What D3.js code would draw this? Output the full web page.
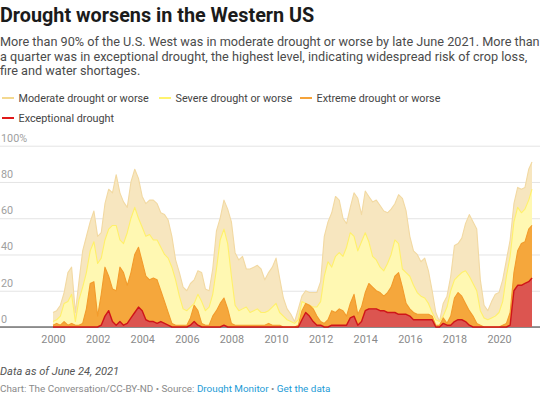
<!DOCTYPE html>
<html><head><meta charset="utf-8">
<script src="https://cdn.jsdelivr.net/npm/d3@7"></script>
<style>
html,body{margin:0;padding:0;background:#fff;}
svg{display:block;font-family:Roboto,"Noto Sans",sans-serif;}
</style></head>
<body>
<svg id="chart" width="540" height="393"></svg>
<script>
// ---- data (share of U.S. West in drought, %) ----
const dates = [
 "2000-01","2000-03","2000-05","2000-07","2000-09","2000-11",
 "2001-01","2001-03","2001-05","2001-07","2001-09","2001-11",
 "2002-01","2002-03","2002-05","2002-07","2002-09","2002-11",
 "2003-01","2003-03","2003-05","2003-07","2003-09","2003-11",
 "2004-01","2004-03","2004-05","2004-07","2004-09","2004-11",
 "2005-01","2005-03","2005-05","2005-07","2005-09","2005-11",
 "2006-01","2006-03","2006-05","2006-07","2006-09","2006-11",
 "2007-01","2007-03","2007-05","2007-07","2007-09","2007-11",
 "2008-01","2008-03","2008-05","2008-07","2008-09","2008-11",
 "2009-01","2009-03","2009-05","2009-07","2009-09","2009-11",
 "2010-01","2010-03","2010-05","2010-07","2010-09","2010-11",
 "2011-01","2011-03","2011-05","2011-07","2011-09","2011-11",
 "2012-01","2012-03","2012-05","2012-07","2012-09","2012-11",
 "2013-01","2013-03","2013-05","2013-07","2013-09","2013-11",
 "2014-01","2014-03","2014-05","2014-07","2014-09","2014-11",
 "2015-01","2015-03","2015-05","2015-07","2015-09","2015-11",
 "2016-01","2016-03","2016-05","2016-07","2016-09","2016-11",
 "2017-01","2017-03","2017-05","2017-07","2017-09","2017-11",
 "2018-01","2018-03","2018-05","2018-07","2018-09","2018-11",
 "2019-01","2019-03","2019-05","2019-07","2019-09","2019-11",
 "2020-01","2020-03","2020-05","2020-07","2020-09","2020-11",
 "2021-01","2021-03","2021-05","2021-06-24"
];
const moderate = [
 8, 9, 12, 19, 30, 33,
 8, 25, 42, 50, 58, 64,
 50, 52, 68, 76, 74, 84,
 74, 69, 66, 80, 87, 82,
 72, 68, 70, 70, 68, 63,
 62, 59, 50, 37, 30, 22,
 20, 24, 26, 31, 30, 21,
 20, 32, 53, 60, 70, 65,
 58, 41, 37, 39, 32, 32,
 33, 34, 32, 26, 30, 33,
 38, 27, 16, 10, 7, 3,
 10, 17, 20, 19, 19, 19,
 25, 50, 58, 63, 72, 70,
 60, 57, 66, 74, 71, 62,
 75, 72, 69, 70, 67, 64,
 63, 65, 68, 73, 71, 64,
 50, 42, 40, 36, 38, 31,
 20, 8, 3, 13, 17, 28,
 45, 46, 49, 57, 62, 58,
 54, 26, 12, 9, 14, 18,
 19, 26, 37, 48, 68, 77,
 76, 77, 87, 91
];
const severe = [
 3, 4, 6, 13, 14, 18,
 3, 15, 22, 30, 42, 47,
 35, 38, 48, 54, 56, 56,
 48, 46, 52, 60, 66, 60,
 55, 50, 51, 48, 48, 44,
 40, 38, 33, 26, 17, 10,
 9, 11, 13, 18, 14, 9,
 11, 18, 32, 48, 54, 46,
 28, 12, 9, 10, 11, 8,
 9, 10, 8, 8, 9, 11,
 13, 8, 6, 4, 3, 2,
 4, 14, 13, 12, 11, 11,
 14, 28, 36, 33, 39, 41,
 39, 44, 52, 50, 42, 47,
 52, 47, 39, 37, 33, 31,
 35, 40, 48, 46, 32, 30,
 28, 23, 19, 17, 16, 13,
 8, 4, 3, 6, 11, 20,
 26, 28, 30, 31, 28, 24,
 20, 9, 5, 4, 5, 6,
 8, 14, 28, 39, 58, 66,
 63, 65, 70, 76
];
const extreme = [
 1, 2, 1, 3, 1, 2,
 1, 1, 2, 10, 24, 25,
 6, 18, 33, 28, 21, 20,
 33, 30, 23, 30, 40, 44,
 36, 28, 26, 27, 26, 20,
 14, 8, 2, 1, 1, 1,
 1, 5, 12, 9, 2, 1,
 1, 6, 9, 13, 16, 10,
 2, 1, 1, 1, 1, 1,
 1, 1, 1, 1, 2, 1,
 1, 1, 0, 0, 0, 0,
 1, 9, 13, 12, 10, 6,
 3, 2, 4, 9, 8, 10,
 9, 6, 13, 18, 7, 11,
 19, 24, 22, 20, 19, 17,
 19, 22, 28, 30, 22, 13,
 10, 8, 7, 7, 7, 7,
 6, 1, 1, 5, 2, 6,
 16, 19, 17, 13, 9, 6,
 2, 1, 0, 0, 0, 0,
 0, 1, 2, 8, 30, 42,
 46, 47, 54, 56
];
const exceptional = [
 0, 0, 0, 0, 0, 0,
 0, 0, 0, 0, 0, 0,
 0, 1, 6, 9, 3, 1,
 3, 1, 2, 5, 8, 11,
 9, 4, 3, 3, 2, 3,
 2, 1, 0, 0, 0, 0,
 0, 1, 3, 1, 0, 0,
 0, 0, 0, 0, 1, 0,
 0, 0, 0, 0, 0, 0,
 0, 0, 0, 0, 0, 0,
 0, 0, 0, 0, 0, 0,
 0, 4, 8, 6, 3, 1,
 1, 0, 0, 1, 1, 1,
 1, 1, 5, 6, 1, 3,
 9, 10, 10, 10, 9, 9,
 8, 8, 8, 7, 7, 7,
 6, 4, 4, 4, 4, 4,
 4, 0, 0, 2, 1, 1,
 3, 4, 4, 3, 1, 0,
 0, 0, 0, 0, 0, 0,
 0, 0, 0, 1, 20, 23,
 23, 24, 25, 27
];
const seriesNames = ["Moderate drought or worse","Severe drought or worse","Extreme drought or worse","Exceptional drought"];
const yTicks = [0, 20, 40, 60, 80, 100];
const xTickYears = [2000, 2002, 2004, 2006, 2008, 2010, 2012, 2014, 2016, 2018, 2020];

// ---- styles ----
const fills   = ["#f7e6bf", "#fff8b2", "#f5a73c", "#dc5550"];
const strokes = ["#f2d9a2", "#fff06a", "#f29b2c", "#cf1519"];
const swatch  = ["#f3d88f", "#fff36e", "#f5a33a", "#e0191a"];

const W = 540;
const svg = d3.select("#chart");

const pYM = d3.timeParse("%Y-%m"), pYMD = d3.timeParse("%Y-%m-%d");
const parsed = dates.map(s => s.length === 7 ? pYM(s) : pYMD(s));
const allSeries = [moderate, severe, extreme, exceptional].map(vals => vals.map((v, i) => ({date: parsed[i], v})));

const x = d3.scaleTime().domain([parsed[0], parsed[parsed.length - 1]]).range([53, 532]);
const y = d3.scaleLinear().domain([0, 100]).range([327, 145.7]);

// ---- header ----
svg.append("text").attr("x", 0).attr("y", 22)
  .attr("font-size", "19.8px").attr("font-weight", "bold").attr("fill", "#1b1b1b")
  .text("Drought worsens in the Western US");
const sub = [
 "More than 90% of the U.S. West was in moderate drought or worse by late June 2021. More than",
 "a quarter was in exceptional drought, the highest level, indicating widespread risk of crop loss,",
 "fire and water shortages."
];
svg.append("g").selectAll("text").data(sub).join("text")
  .attr("x", 0).attr("y", (d, i) => 46 + i * 14.6)
  .attr("font-size", "12.7px").attr("fill", "#4b4b4b").text(d => d);

// ---- legend ----
const legPos = [[0, 98], [157, 98], [298, 98], [0, 118]];
const leg = svg.append("g").selectAll("g").data(seriesNames).join("g")
  .attr("transform", (d, i) => `translate(${legPos[i][0]},${legPos[i][1]})`);
leg.append("line").attr("x1", 2).attr("x2", 14).attr("y1", 0).attr("y2", 0)
  .attr("stroke", (d, i) => swatch[i]).attr("stroke-width", 2);
leg.append("text").attr("x", 18.5).attr("y", 3.9).attr("font-size", "10.8px").attr("fill", "#444").text(d => d);

// ---- grid + y labels ----
const yAxis = d3.axisLeft(y).tickValues(yTicks).tickSize(-W).tickFormat(d => d === 100 ? "100%" : d);
const gy = svg.append("g").call(yAxis);
gy.select(".domain").remove();
gy.selectAll(".tick line").attr("x1", 0).attr("x2", W).attr("stroke", "#e4e4e4");
gy.selectAll(".tick text").attr("x", 1).attr("dy", -4.5).attr("text-anchor", "start")
  .attr("font-size", "10.8px").attr("fill", "#a0a0a0").attr("font-family", "Roboto");

// baseline
svg.append("line").attr("x1", 0).attr("x2", W).attr("y1", y(0)).attr("y2", y(0))
  .attr("stroke", "#333").attr("stroke-width", 1);

// ---- areas ----
const area = d3.area().x(d => x(d.date)).y0(y(0)).y1(d => y(d.v));
const line = d3.line().x(d => x(d.date)).y(d => y(d.v));
const plot = svg.append("g");
allSeries.forEach((s, i) => {
  plot.append("path").datum(s).attr("d", area).attr("fill", fills[i]);
  plot.append("path").datum(s).attr("d", line).attr("fill", "none")
    .attr("stroke", strokes[i]).attr("stroke-width", i === 3 ? 1.4 : 1.1).attr("stroke-linejoin", "round");
});

// ---- x axis ----
const xAxis = d3.axisBottom(x).tickValues(xTickYears.map(yr => new Date(yr, 0, 1)))
  .tickFormat(d3.timeFormat("%Y")).tickSize(0);
const gx = svg.append("g").attr("transform", `translate(0,${y(0)})`).call(xAxis);
gx.select(".domain").remove();
gx.selectAll(".tick text").attr("dy", 0).attr("y", 15.5)
  .attr("font-size", "10.8px").attr("fill", "#8a8a8a").attr("font-family", "Roboto");

// ---- footer ----
svg.append("text").attr("x", 0).attr("y", 375).attr("font-size", "11.1px").attr("font-style", "italic")
  .attr("fill", "#555").text("Data as of June 24, 2021");
const foot = svg.append("text").attr("x", 0).attr("y", 391.5).attr("font-size", "9.9px").attr("fill", "#8a8a8a");
foot.append("tspan").text("Chart: The Conversation/CC-BY-ND • Source: ");
foot.append("tspan").attr("fill", "#1d9bd6").text("Drought Monitor");
foot.append("tspan").text(" • ");
foot.append("tspan").attr("fill", "#1d9bd6").text("Get the data");
</script>
</body></html>
